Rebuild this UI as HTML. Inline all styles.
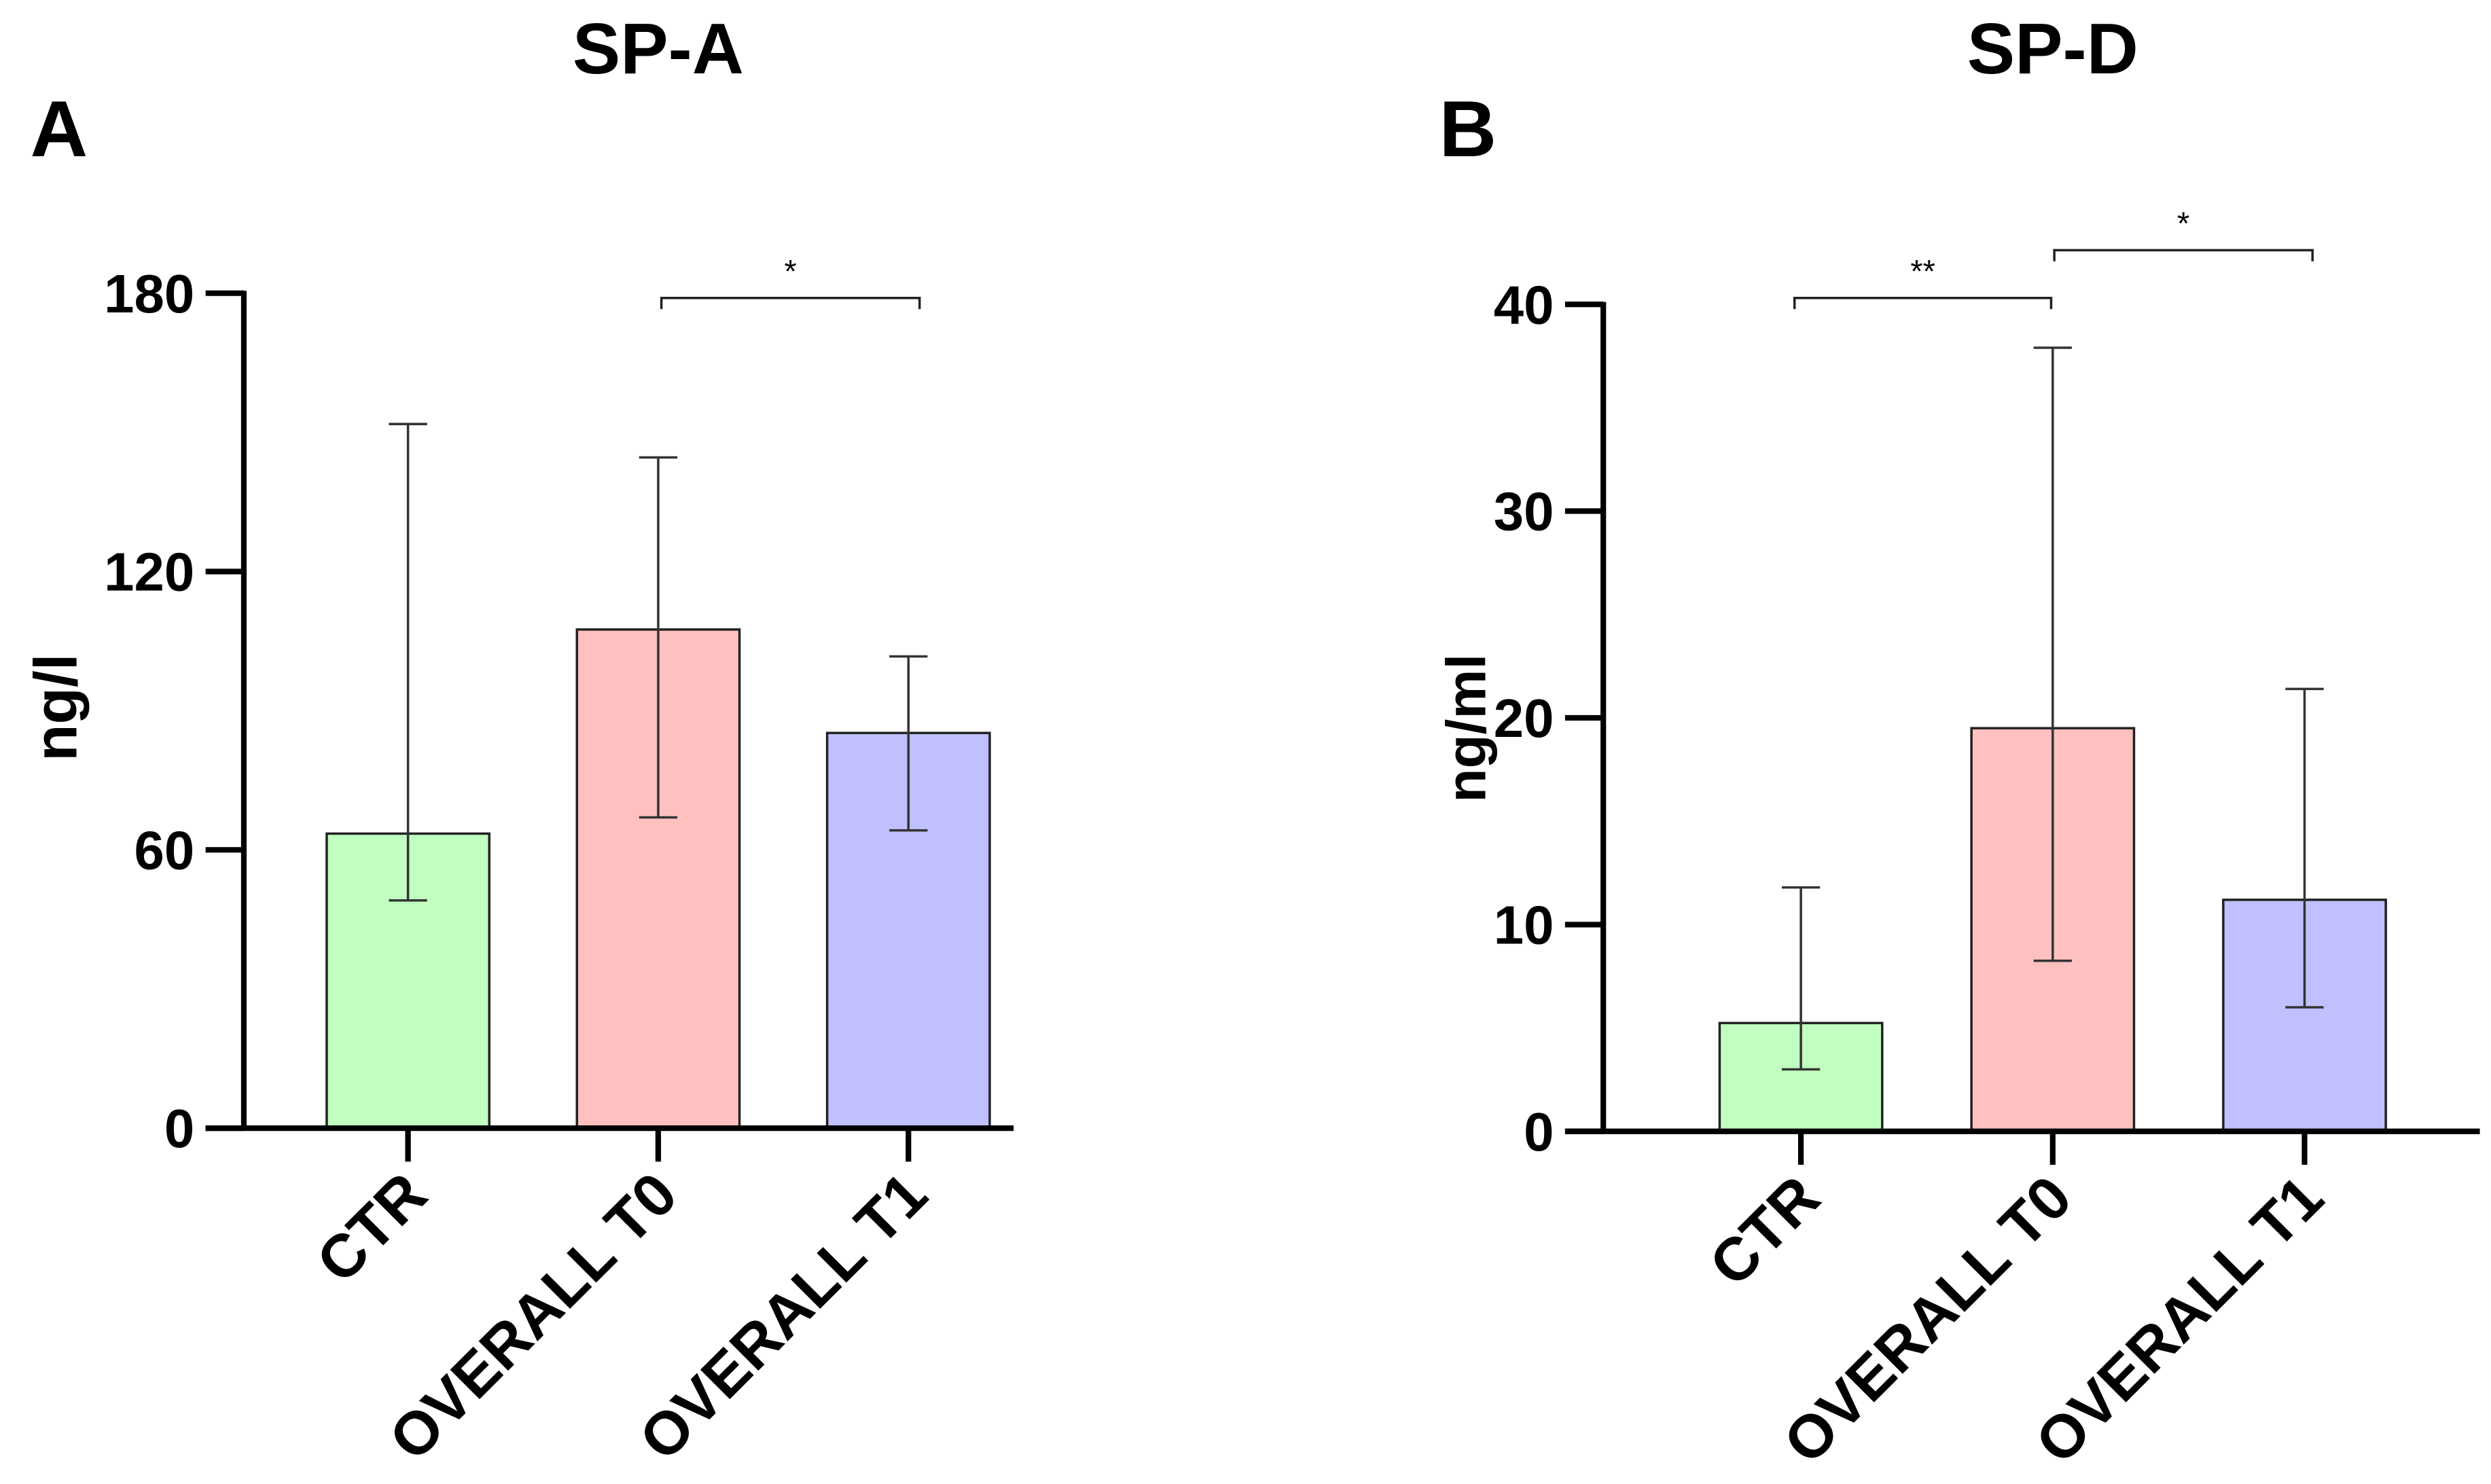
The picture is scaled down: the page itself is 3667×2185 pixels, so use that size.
<!DOCTYPE html>
<html><head><meta charset="utf-8"><style>
html,body{margin:0;padding:0;background:#fff;}
svg{display:block;font-family:"Liberation Sans",Arial,sans-serif;font-weight:bold;}
</style></head><body>
<svg id="chart" width="3667" height="2185" viewBox="0 0 1563 931.3" preserveAspectRatio="none" xmlns="http://www.w3.org/2000/svg"></svg>
<script>
const categories = ["CTR", "OVERALL T0", "OVERALL T1"];
const colors = ["#c0ffc0", "#ffc0c0", "#c0c0ff"];
const spaMeans = [63.5, 107.5, 85.2];
const spaHigh = [151.8, 144.6, 101.7];
const spaLow = [49.1, 67.0, 64.2];
const spaTicks = [0, 60, 120, 180];
const spdMeans = [5.24, 19.5, 11.2];
const spdHigh = [11.8, 37.9, 21.4];
const spdLow = [3.0, 8.25, 6.0];
const spdTicks = [0, 10, 20, 30, 40];

const svg = document.getElementById('chart');
const NS = "http://www.w3.org/2000/svg";
function mk(tag, attrs, parent, text) {
  const e = document.createElementNS(NS, tag);
  for (const k in attrs) e.setAttribute(k, attrs[k]);
  if (text !== undefined) e.textContent = text;
  (parent || svg).appendChild(e);
  return e;
}

function panel(cfg) {
  const g = mk('g', {});
  
  
  const y = v => cfg.y0 - (v / cfg.max) * (cfg.y0 - cfg.yTop);
  const t = mk('text', {x: cfg.titleX, y: 46, 'font-size': 45, 'text-anchor': 'middle'}, g, cfg.title);
  
  
  const l = mk('text', {x: cfg.letterX, y: 98, 'font-size': 50}, g, cfg.letter);
  
  
  cfg.means.forEach((m, i) => {
    const cx = cfg.centers[i];
    const b = mk('rect', {x: cx - 51, y: y(m), width: 102, height: cfg.y0 - y(m), fill: colors[i], stroke: '#222', 'stroke-width': 1.5}, g);
    
    
    const eb = mk('g', {stroke: '#333', 'stroke-width': 1.5}, g);
    
    
    mk('line', {x1: cx, x2: cx, y1: y(cfg.high[i]), y2: y(cfg.low[i])}, eb);
    mk('line', {x1: cx - 12, x2: cx + 12, y1: y(cfg.high[i]), y2: y(cfg.high[i])}, eb);
    mk('line', {x1: cx - 12, x2: cx + 12, y1: y(cfg.low[i]), y2: y(cfg.low[i])}, eb);
    const tk = mk('line', {x1: cx, x2: cx, y1: cfg.y0, y2: cfg.y0 + 21, stroke: '#000', 'stroke-width': 3.5}, g);
    
    
    const lx = cx + 14, ly = cfg.y0 + 44;
    const xl = mk('text', {x: lx, y: ly, 'font-size': 38, 'text-anchor': 'end', transform: `rotate(-45 ${lx} ${ly})`}, g, categories[i]);
    
    
  });
  const ya = mk('line', {x1: cfg.axisX, x2: cfg.axisX, y1: cfg.yTop - 1.5, y2: cfg.y0 + 1.5, stroke: '#000', 'stroke-width': 3.5}, g);
  
  
  const xa = mk('line', {x1: cfg.axisX - 24, x2: cfg.xEnd, y1: cfg.y0, y2: cfg.y0, stroke: '#000', 'stroke-width': 3.5}, g);
  
  
  cfg.ticks.forEach(v => {
    const tl = mk('line', {x1: cfg.axisX - 24, x2: cfg.axisX, y1: y(v), y2: y(v), stroke: '#000', 'stroke-width': 3.5}, g);
    
    
    const tt = mk('text', {x: cfg.axisX - 31, y: y(v) + 12, 'font-size': 34, 'text-anchor': 'end'}, g, String(v));
    
    
  });
  const yt = mk('text', {x: cfg.yLabelX, y: cfg.yLabelY, 'font-size': cfg.yLabelSize, 'text-anchor': 'middle', transform: `rotate(-90 ${cfg.yLabelX} ${cfg.yLabelY})`}, g, cfg.yLabel);
  
  
  cfg.sig.forEach(s => {
    const sg = mk('g', {}, g);
    
    
    mk('path', {d: `M${s.x1},${s.y + 7} V${s.y} H${s.x2} V${s.y + 7}`, fill: 'none', stroke: '#222', 'stroke-width': 1.5}, sg);
    mk('text', {x: (s.x1 + s.x2) / 2, y: s.y - 10, 'font-size': 20, 'text-anchor': 'middle', 'font-weight': 'normal'}, sg, s.label);
  });
}

panel({name: 'panel-sp-a', title: 'SP-A', titleX: 413, letter: 'A', letterX: 19, axisX: 153, xEnd: 636,
  y0: 708, yTop: 184, max: 180, centers: [256, 413, 570], means: spaMeans, high: spaHigh, low: spaLow,
  ticks: spaTicks, yLabel: 'ng/l', yLabelX: 48, yLabelY: 444, yLabelSize: 38,
  sig: [{x1: 415, x2: 577, y: 187, label: '*'}]});
panel({name: 'panel-sp-d', title: 'SP-D', titleX: 1288, letter: 'B', letterX: 903, axisX: 1006, xEnd: 1556,
  y0: 710, yTop: 191, max: 40, centers: [1130, 1288, 1446], means: spdMeans, high: spdHigh, low: spdLow,
  ticks: spdTicks, yLabel: 'ng/ml', yLabelX: 932, yLabelY: 457, yLabelSize: 35,
  sig: [{x1: 1126, x2: 1287, y: 187, label: '**'}, {x1: 1289, x2: 1451, y: 157, label: '*'}]});
</script>
</body></html>
